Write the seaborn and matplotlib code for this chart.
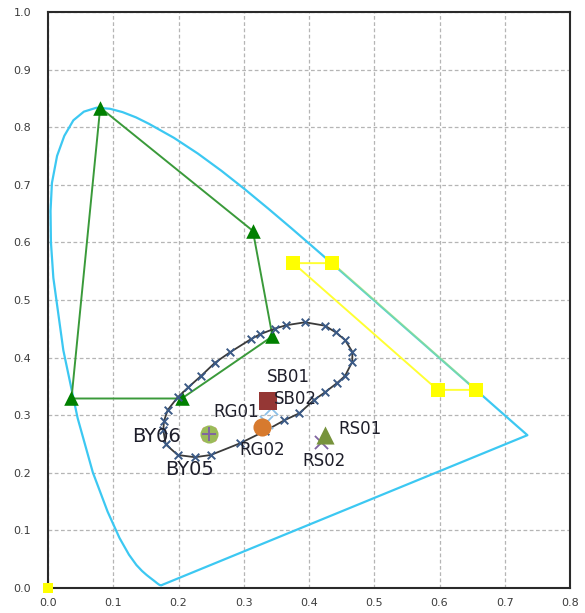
import numpy as np
import pandas as pd
import matplotlib
matplotlib.use("Agg")
import matplotlib.pyplot as plt
import seaborn as sns

# ---------------- data ----------------
# spectral locus (chromaticity x, y)
locus_x = [0.1741, 0.1736, 0.1730, 0.1721, 0.1714, 0.1703, 0.1689, 0.1669, 0.1644,
           0.1611, 0.1566, 0.1510, 0.1440, 0.1355, 0.1241, 0.1096, 0.0913, 0.0687,
           0.0454, 0.0235, 0.0082, 0.0045, 0.0039, 0.0060, 0.0139, 0.0250, 0.0389,
           0.0550, 0.0743, 0.0950, 0.1142, 0.1350, 0.1547, 0.1929, 0.2296, 0.2658,
           0.3016, 0.3373, 0.3731, 0.4087, 0.4441, 0.4788, 0.5125, 0.5448, 0.5752,
           0.6029, 0.6270, 0.6482, 0.6658, 0.6915, 0.7079, 0.7190, 0.7260, 0.7300,
           0.7347]
locus_y = [0.0050, 0.0049, 0.0048, 0.0048, 0.0051, 0.0058, 0.0069, 0.0086, 0.0109,
           0.0138, 0.0177, 0.0227, 0.0297, 0.0399, 0.0578, 0.0868, 0.1327, 0.2007,
           0.2950, 0.4127, 0.5384, 0.6000, 0.6548, 0.7030, 0.7502, 0.7850, 0.8120,
           0.8270, 0.8338, 0.8320, 0.8262, 0.8170, 0.8059, 0.7816, 0.7543, 0.7243,
           0.6923, 0.6589, 0.6245, 0.5896, 0.5547, 0.5202, 0.4866, 0.4544, 0.4242,
           0.3965, 0.3725, 0.3514, 0.3340, 0.3083, 0.2920, 0.2809, 0.2740, 0.2700,
           0.2653]

# green gamut polygon
green_x = [0.080, 0.314, 0.344, 0.205, 0.036]
green_y = [0.834, 0.620, 0.437, 0.329, 0.329]

# yellow polygon (TL, TR, BR, BL)
yellow_x = [0.376, 0.436, 0.656, 0.597]
yellow_y = [0.564, 0.564, 0.344, 0.344]

# ellipse with x markers
ell_x = [0.1804, 0.1767, 0.1778, 0.1834, 0.1988, 0.2150, 0.2345, 0.2559, 0.2789,
         0.3107, 0.3249, 0.3479, 0.3655, 0.3939, 0.4245, 0.4409, 0.4552, 0.4664,
         0.4664, 0.4552, 0.4425, 0.4245, 0.4077, 0.3851, 0.3621, 0.3326, 0.2943,
         0.2494, 0.2253, 0.1988]
ell_y = [0.2495, 0.2743, 0.2899, 0.3090, 0.3311, 0.3484, 0.3681, 0.3911, 0.4092,
         0.4318, 0.4405, 0.4505, 0.4563, 0.4613, 0.4554, 0.4439, 0.4306, 0.4102,
         0.3929, 0.3681, 0.3554, 0.3398, 0.3264, 0.3033, 0.2911, 0.2726, 0.2512,
         0.2309, 0.2271, 0.2309]

# sample points
pt_names = ["SB01", "SB02", "RG01", "RG02", "RS01", "RS02", "BY06", "BY05"]
pt_x = [0.3376, 0.341, 0.3275, 0.334, 0.4245, 0.419, 0.247, 0.247]
pt_y = [0.3255, 0.312, 0.280, 0.288, 0.266, 0.254, 0.267, 0.267]
pt_markers = ["s", "x", "o", "x", "^", "x", "o", "x"]
pt_colors = ["#953735", "#8cc0e8", "#d77a2e", "#8cc0e8", "#77933c", "#8064a2", "#9bbb59", "#e46c6c"]

lab_x = [0.368, 0.379, 0.289, 0.3275, 0.478, 0.4235, 0.1665, 0.2176]
lab_y = [0.366, 0.328, 0.306, 0.240, 0.276, 0.2205, 0.263, 0.205]
lab_size = [12, 12, 12, 12, 12, 12, 14, 14]

x_ticks = [0.0, 0.1, 0.2, 0.3, 0.4, 0.5, 0.6, 0.7, 0.8]
y_ticks = [0.0, 0.1, 0.2, 0.3, 0.4, 0.5, 0.6, 0.7, 0.8, 0.9, 1.0]

# ---------------- plot ----------------
sns.set_theme(style="white")
plt.rcParams['font.family'] = ['DejaVu Sans']

fig = plt.figure(figsize=(5.85, 6.13), dpi=100)
ax = fig.add_axes([48 / 585, 1 - 588 / 613, 522 / 585, 576 / 613])

# locus closed with purple line
lx = locus_x + [locus_x[0]]
ly = locus_y + [locus_y[0]]
sns.lineplot(x=lx, y=ly, sort=False, estimator=None,
             color="#3cc8f2", lw=1.6, ax=ax, zorder=3)

# yellow polygon: top, left, bottom edges solid, right edge overlaps locus
yx = [yellow_x[1], yellow_x[0], yellow_x[3], yellow_x[2]]
yy = [yellow_y[1], yellow_y[0], yellow_y[3], yellow_y[2]]
sns.lineplot(x=yx, y=yy, sort=False, estimator=None, color="#ffff33", lw=1.4, ax=ax, zorder=4)
sns.lineplot(x=[yellow_x[1], yellow_x[2]], y=[yellow_y[1], yellow_y[2]], sort=False,
             estimator=None, color="#ffff00", lw=1.6, alpha=0.3, ax=ax, zorder=4)
sns.scatterplot(x=yellow_x, y=yellow_y, marker="s", color="#ffff00", s=110,
                edgecolor="#ffff00", linewidth=0, ax=ax, zorder=5)
sns.scatterplot(x=[0.0], y=[0.0], marker="s", color="#ffff00", s=55,
                edgecolor="#ffff00", linewidth=0, ax=ax, zorder=6, clip_on=False)

# green polygon
gx = green_x + [green_x[0]]
gy = green_y + [green_y[0]]
sns.lineplot(x=gx, y=gy, sort=False, estimator=None, color="#3a9a3a", lw=1.4, ax=ax, zorder=4)
sns.scatterplot(x=green_x, y=green_y, marker="^", color="#008000", s=110,
                edgecolor="#008000", linewidth=0, ax=ax, zorder=5)

# ellipse
ex = ell_x + [ell_x[0]]
ey = ell_y + [ell_y[0]]
sns.lineplot(x=ex, y=ey, sort=False, estimator=None, color="#3a3a3a", lw=1.3, ax=ax, zorder=6)
sns.scatterplot(x=ell_x, y=ell_y, marker="x", color="#3b5a86", s=30, linewidth=1.4,
                ax=ax, zorder=7)

# sample points
sizes = {"s": 150, "o": 170, "^": 170, "x": 90}
for i in [7, 5, 1, 3, 0, 2, 4, 6]:
    m = pt_markers[i]
    if m == "x":
        sns.scatterplot(x=[pt_x[i]], y=[pt_y[i]], marker="x", color=pt_colors[i],
                        s=sizes[m], linewidth=1.3, ax=ax, zorder=8)
    else:
        sns.scatterplot(x=[pt_x[i]], y=[pt_y[i]], marker=m, color=pt_colors[i],
                        s=sizes[m], edgecolor=pt_colors[i], linewidth=0, ax=ax, zorder=9)
# plus on BY06 marker
sns.scatterplot(x=[pt_x[6]], y=[pt_y[6]], marker="+", color="#8064a2", s=110,
                linewidth=1.4, ax=ax, zorder=10)

for i, name in enumerate(pt_names):
    ax.text(lab_x[i], lab_y[i], name, ha="center", va="center",
            fontsize=lab_size[i], color="#1e1e2a", zorder=11)

ax.set_xlim(0, 0.8)
ax.set_ylim(0, 1.0)
ax.set_xticks(x_ticks)
ax.set_yticks(y_ticks)
ax.set_xticklabels([f"{t:.1f}" for t in x_ticks])
ax.set_yticklabels([f"{t:.1f}" for t in y_ticks])
ax.set_xlabel("")
ax.set_ylabel("")
ax.tick_params(axis="both", direction="in", length=4, width=1.2, color="#222222",
               labelsize=8, labelcolor="#3c3c3c")
ax.tick_params(axis="y", pad=12)
ax.tick_params(axis="x", pad=7)
ax.grid(True, color="#b5b5b5", lw=0.9, ls=(0, (3, 2)))
ax.set_axisbelow(True)
for s in ax.spines.values():
    s.set_color("#2a2a2a")
    s.set_linewidth(1.5)
    s.set_visible(True)
ax.set_facecolor("white")
fig.patch.set_facecolor("white")

fig.savefig("out.png", dpi=100, facecolor="white")
